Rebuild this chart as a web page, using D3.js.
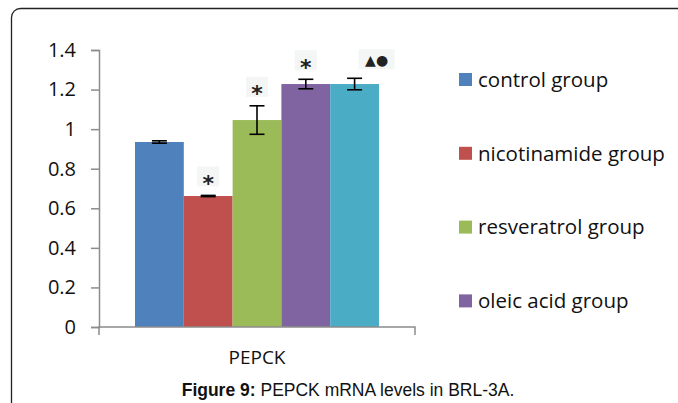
<!DOCTYPE html>
<html>
<head>
<meta charset="utf-8">
<script src="https://cdn.jsdelivr.net/npm/d3@7"></script>
<style>
	body { margin: 0; background: #fff; }
	svg { display: block; }
</style>
</head>
<body>
<div id="chart"></div>
<script>
// Data
var groups = ['control group', 'nicotinamide group', 'resveratrol group', 'oleic acid group', 'fifth group'];
var values = [0.935, 0.662, 1.046, 1.228, 1.228];
var errors = [0.006, 0.003, 0.072, 0.024, 0.029];
var marks = ['', '*', '*', '*', '\u25B2\u25CF'];
var colors = ['#4F81BD', '#C0504D', '#9BBB59', '#8064A2', '#4BACC6'];
var legendGroups = groups.slice(0, 4);
var yTicks = [0, 0.2, 0.4, 0.6, 0.8, 1, 1.2, 1.4];
var category = 'PEPCK';

var width = 678, height = 403;

var svg = d3.select('#chart').append('svg')
	.attr('width', width)
	.attr('height', height);

// outer frame
svg.append('rect')
	.attr('x', 11.5).attr('y', 8.5)
	.attr('width', 720).attr('height', 440)
	.attr('rx', 9)
	.attr('fill', 'none')
	.attr('stroke', '#222')
	.attr('stroke-width', 1.3);

var y = d3.scaleLinear().domain([0, 1.4]).range([327, 50]);
var xCat = d3.scaleBand().domain([category]).range([99, 415]);
var xBar = d3.scaleBand().domain(groups)
	.range([xCat(category) + 36, xCat(category) + xCat.bandwidth() - 36]);

var grey = '#8c8c8c';

// y axis
var yAxis = svg.append('g')
	.attr('transform', 'translate(99,0)')
	.call(d3.axisLeft(y).tickValues(yTicks).tickSize(8).tickPadding(15).tickFormat(d => d3.format('')(d)));
yAxis.select('.domain').attr('stroke', grey).attr('stroke-width', 1.5);
yAxis.selectAll('.tick line').attr('stroke', grey).attr('stroke-width', 1.5);
yAxis.selectAll('.tick text')
	.attr('fill', '#111')
	.style('font-family', 'Open Sans')
	.style('font-size', '20px');

// bars
svg.selectAll('.bar')
	.data(groups)
	.enter().append('rect')
	.attr('class', 'bar')
	.attr('x', d => xBar(d))
	.attr('width', xBar.bandwidth())
	.attr('y', (d, i) => y(values[i]))
	.attr('height', (d, i) => y(0) - y(values[i]))
	.attr('fill', (d, i) => colors[i]);

// x axis
var xAxis = svg.append('g')
	.attr('transform', 'translate(0,327)')
	.call(d3.axisBottom(xCat).tickSize(0).tickPadding(24));
xAxis.select('.domain').attr('stroke', grey).attr('stroke-width', 1.5)
	.attr('d', 'M99,8V0H415V8');
xAxis.selectAll('.tick text')
	.attr('fill', '#111')
	.style('font-family', 'Open Sans')
	.style('font-size', '19px');

// error bars
var err = svg.selectAll('.err')
	.data(groups)
	.enter().append('g')
	.attr('class', 'err')
	.attr('stroke', '#000')
	.attr('stroke-width', 1.6);
err.append('line')
	.attr('x1', d => xBar(d) + xBar.bandwidth() / 2)
	.attr('x2', d => xBar(d) + xBar.bandwidth() / 2)
	.attr('y1', (d, i) => y(values[i] + errors[i]))
	.attr('y2', (d, i) => y(values[i] - errors[i]));
err.selectAll('.cap')
	.data((d, i) => [values[i] + errors[i], values[i] - errors[i]].map(v => ({ g: d, v: v })))
	.enter().append('line')
	.attr('x1', d => xBar(d.g) + xBar.bandwidth() / 2 - 7.5)
	.attr('x2', d => xBar(d.g) + xBar.bandwidth() / 2 + 7.5)
	.attr('y1', d => y(d.v))
	.attr('y2', d => y(d.v));

// significance marks
var markG = svg.selectAll('.mark')
	.data(groups.filter((d, i) => marks[i]))
	.enter().append('g')
	.attr('class', 'mark')
	.attr('transform', d => {
		var i = groups.indexOf(d);
		var dx = marks[i].length > 1 ? 22 : 0;
		return 'translate(' + (xBar(d) + xBar.bandwidth() / 2 + dx) + ',' + (y(values[i] + errors[i]) - 18) + ')';
	});
markG.append('rect')
	.attr('x', d => marks[groups.indexOf(d)].length > 1 ? -18 : -11)
	.attr('y', -11)
	.attr('width', d => marks[groups.indexOf(d)].length > 1 ? 36 : 22)
	.attr('height', 20)
	.attr('fill', '#f3f6f5');
markG.append('text')
	.attr('text-anchor', 'middle')
	.attr('dy', d => marks[groups.indexOf(d)].length > 1 ? '0.36em' : '0.62em')
	.style('font-family', 'DejaVu Sans')
	.style('font-weight', 'bold')
	.style('font-size', d => marks[groups.indexOf(d)].length > 1 ? '14px' : '22px')
	.attr('fill', '#222')
	.text(d => marks[groups.indexOf(d)]);

// legend
var legend = svg.selectAll('.legend')
	.data(legendGroups)
	.enter().append('g')
	.attr('class', 'legend')
	.attr('transform', (d, i) => 'translate(459,' + (79.5 + i * 73.8) + ')');
legend.append('rect')
	.attr('x', 0).attr('y', -6.5)
	.attr('width', 13).attr('height', 13)
	.attr('fill', (d, i) => colors[i]);
legend.append('text')
	.attr('x', 19)
	.attr('dy', '0.36em')
	.attr('fill', '#111')
	.style('font-family', 'Open Sans')
	.style('font-size', '20.5px')
	.text(d => d);

// caption
var caption = svg.append('text')
	.attr('x', 348)
	.attr('y', 396)
	.attr('text-anchor', 'middle')
	.attr('fill', '#111')
	.style('font-family', 'Liberation Sans, Arial')
	.style('font-size', '17.5px');
caption.append('tspan').style('font-weight', 'bold').text('Figure 9:');
caption.append('tspan').text(' PEPCK mRNA levels in BRL-3A.');
</script>
</body>
</html>
